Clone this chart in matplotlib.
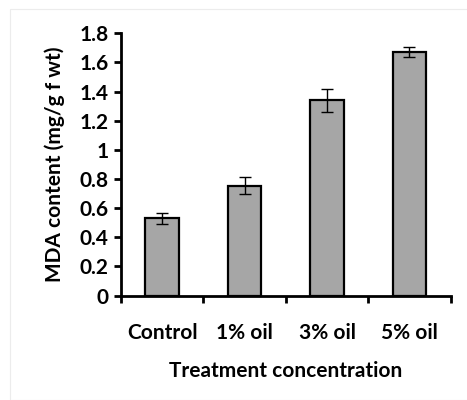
import matplotlib
matplotlib.use("Agg")
import matplotlib.pyplot as plt
from matplotlib.patches import Rectangle

plt.rcParams['font.family'] = ['Lato', 'DejaVu Sans']
plt.rcParams['font.weight'] = 'bold'
plt.rcParams['axes.labelweight'] = 'bold'

categories = ["Control", "1% oil", "3% oil", "5% oil"]
mda = [0.53, 0.755, 1.34, 1.67]
err = [0.037, 0.06, 0.08, 0.035]
yticks = [0, 0.2, 0.4, 0.6, 0.8, 1, 1.2, 1.4, 1.6, 1.8]
ytick_labels = ["0", "0.2", "0.4", "0.6", "0.8", "1", "1.2", "1.4", "1.6", "1.8"]

fig = plt.figure(figsize=(4.67, 4.0), dpi=100)
fig.patches.append(Rectangle((10 / 467, 0.0), 1.0, 1 - 9 / 400, transform=fig.transFigure,
                             fill=False, edgecolor='#ececec', linewidth=0.8))
ax = fig.add_axes([0.259, 0.261, 0.706, 0.656])

x = list(range(len(categories)))
ax.bar(x, mda, width=0.41, color='#a6a6a6', edgecolor='black', linewidth=1.6, zorder=2)
ax.errorbar(x, mda, yerr=err, fmt='none', ecolor='black', elinewidth=1.0,
            capsize=4.5, capthick=1.0, zorder=3)

ax.set_xlim(-0.5, 3.5)
ax.set_ylim(0, 1.8)
ax.set_yticks(yticks)
ax.set_yticklabels(ytick_labels, fontweight='bold')
ax.set_xticks([-0.5, 0.5, 1.5, 2.5, 3.5])
ax.set_xticklabels([])
ax.set_xticks(x, minor=True)
ax.set_xticklabels(categories, minor=True, fontweight='bold')
ax.tick_params(axis='x', which='minor', length=0, pad=20, labelsize=15)
ax.tick_params(axis='x', which='major', direction='out', length=5, width=2)
ax.tick_params(axis='y', direction='out', length=5, width=2, labelsize=15, pad=4)

for side in ['top', 'right']:
    ax.spines[side].set_visible(False)
for side in ['left', 'bottom']:
    ax.spines[side].set_linewidth(2)

ax.set_ylabel("MDA content (mg/g f wt)", fontsize=15, labelpad=10)
ax.set_xlabel("Treatment concentration", fontsize=15, labelpad=13)

fig.savefig("out.png", dpi=100)
